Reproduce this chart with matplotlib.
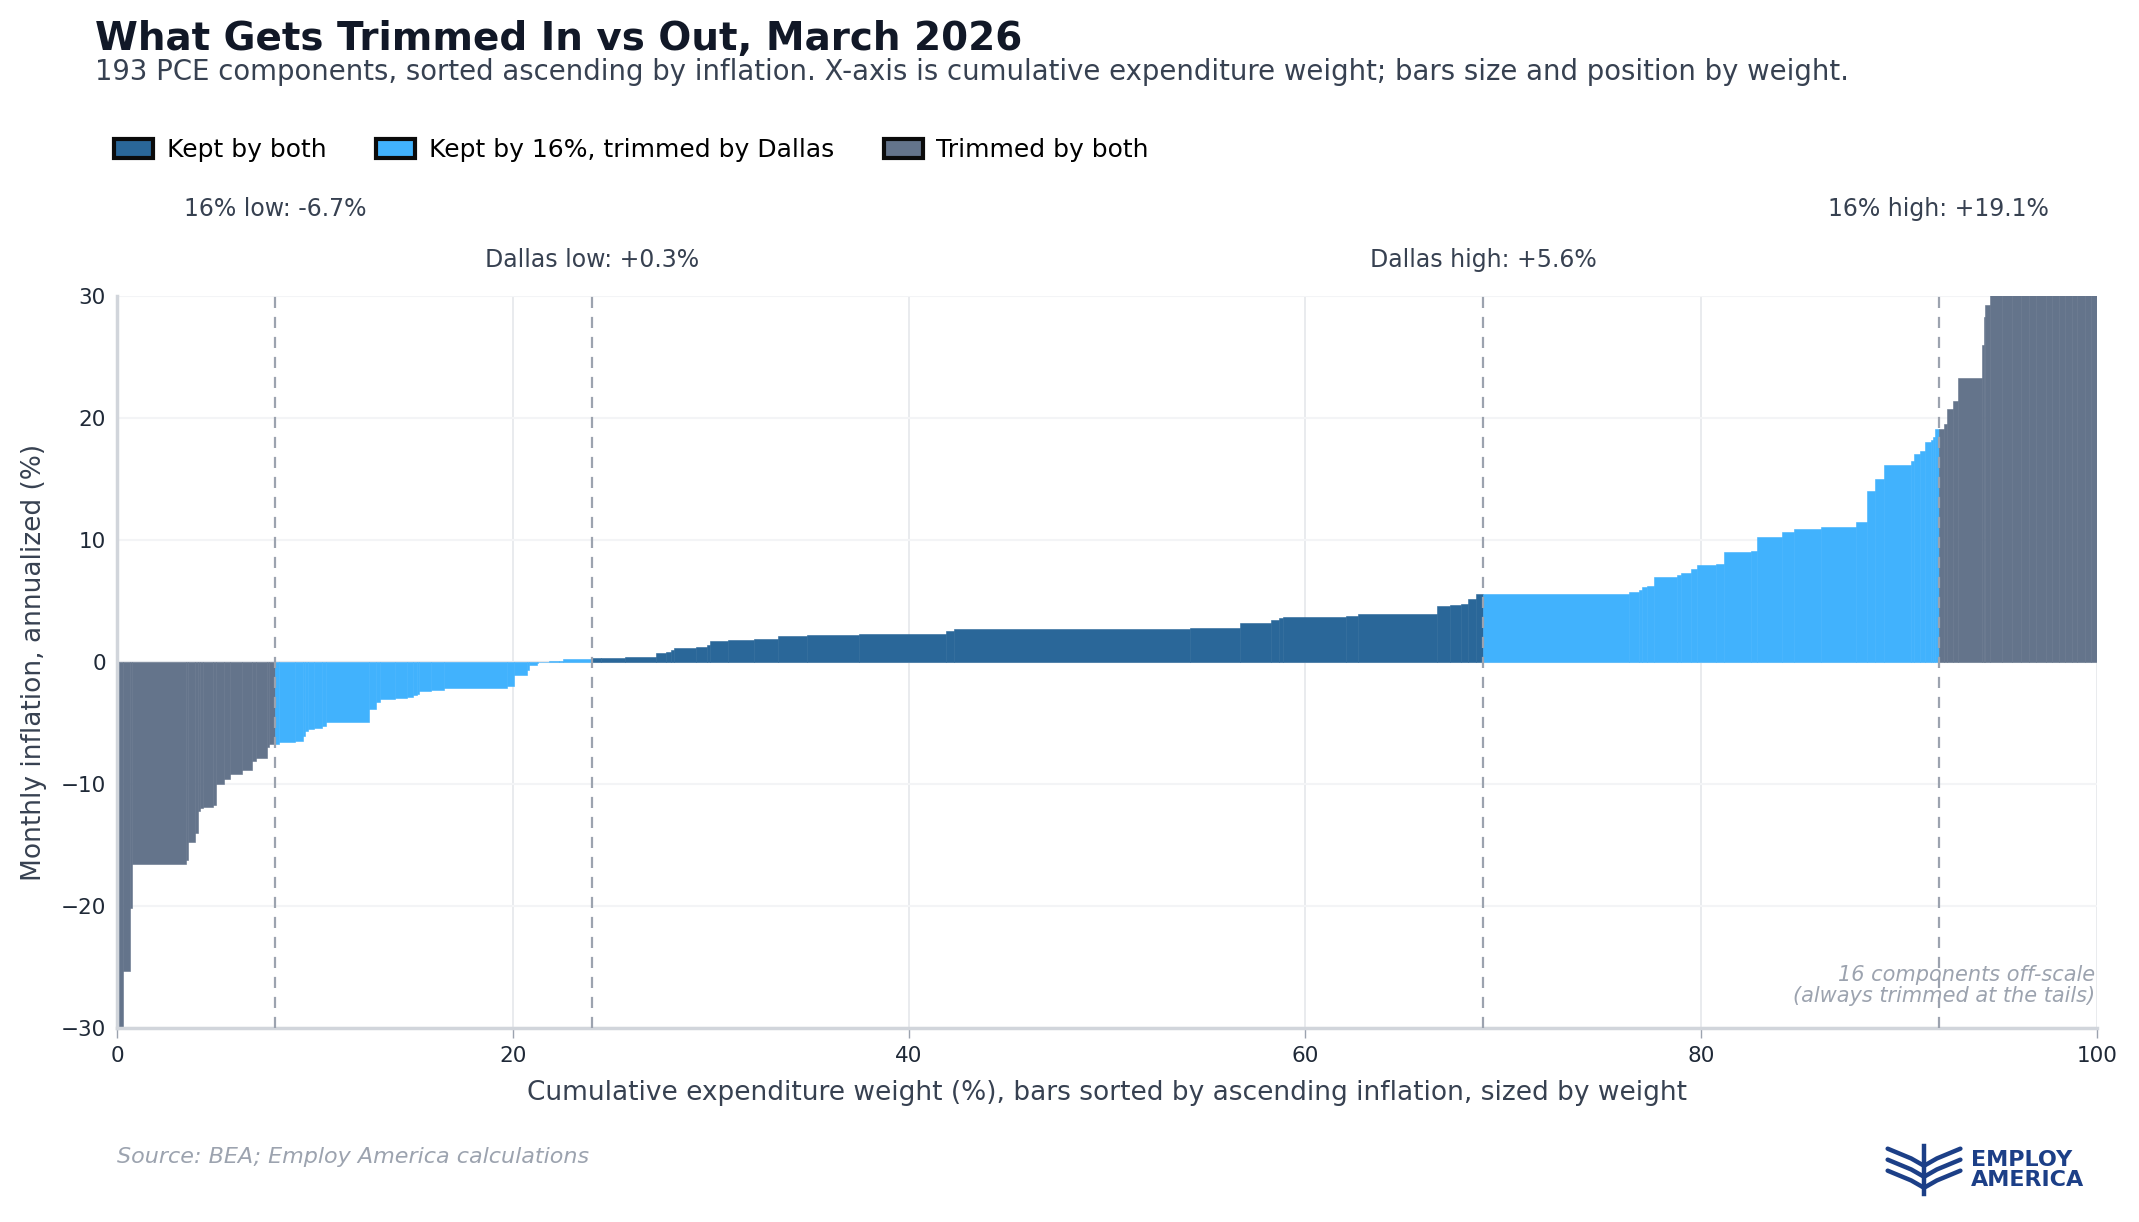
import numpy as np
import matplotlib.pyplot as plt
from matplotlib.patches import Patch
from matplotlib.lines import Line2D

### Component inflation (annualized %, sorted ascending) and expenditure weights (%)
### values; off-scale ones are rough guesses past the axis limits
values_low_trim = [-48, -33, -25.3, -20.2, -16.6, -16.2, -14.75, -14.0, -12.2, -12.0,
                   -11.9, -11.7, -10.0, -9.6, -9.2, -8.85, -8.1, -7.87, -6.97, -6.72]
weights_low_trim = [0.12, 0.17, 0.37, 0.10, 2.72, 0.11, 0.35, 0.15, 0.10, 0.17,
                    0.51, 0.13, 0.40, 0.31, 0.60, 0.51, 0.20, 0.56, 0.11, 0.31]

values_low_mid = [-6.7, -6.6, -6.5, -6.1, -5.65, -5.5, -5.4, -5.25, -4.9, -3.85,
                  -3.28, -3.03, -2.95, -2.87, -2.68, -2.6, -2.35, -2.27, -2.13, -1.97,
                  -1.07, -0.66, -0.25, -0.1, 0.0, 0.05, 0.1, 0.25]
weights_low_mid = [0.18, 0.81, 0.40, 0.10, 0.17, 0.29, 0.40, 0.21, 2.17, 0.35,
                   0.20, 0.76, 0.62, 0.31, 0.20, 0.10, 0.60, 0.65, 3.18, 0.35,
                   0.65, 0.09, 0.41, 0.07, 0.53, 0.52, 0.18, 1.50]

values_core = [0.3, 0.33, 0.44, 0.74, 0.82, 0.98, 1.17, 1.26, 1.39, 1.72,
               1.80, 1.88, 2.13, 2.21, 2.30, 2.54, 2.70, 2.79, 3.20, 3.44,
               3.60, 3.69, 3.77, 3.93, 4.59, 4.67, 4.76, 5.16, 5.57]
weights_core = [0.43, 1.23, 1.58, 0.48, 0.26, 0.16, 1.09, 0.58, 0.16, 0.90,
                1.29, 1.22, 1.46, 2.64, 4.41, 0.38, 11.92, 2.51, 1.60, 0.36,
                0.24, 3.18, 0.59, 3.97, 0.69, 0.57, 0.35, 0.38, 0.37]

values_high_mid = [5.6, 5.74, 5.90, 6.15, 6.23, 6.97, 7.13, 7.30, 7.62, 7.95,
                   8.03, 9.02, 9.10, 10.25, 10.66, 10.90, 11.07, 11.48, 14.02, 15.00,
                   16.15, 16.48, 17.05, 17.30, 18.03, 18.20, 18.45, 19.10]
weights_high_mid = [7.36, 0.51, 0.13, 0.28, 0.35, 1.16, 0.20, 0.50, 0.31, 0.96,
                    0.40, 1.37, 0.30, 1.26, 0.61, 1.36, 1.77, 0.55, 0.41, 0.45,
                    1.36, 0.16, 0.30, 0.25, 0.31, 0.10, 0.08, 0.20]

values_high_trim = [19.1, 19.5, 20.74, 21.4, 23.3, 26.0, 28.3, 29.3,
                    31, 33, 36, 38, 42, 45, 50, 55, 62, 70, 85, 100, 140, 210]
weights_high_trim = [0.27, 0.15, 0.30, 0.26, 1.21, 0.10, 0.05, 0.26,
                     0.6, 0.5, 0.45, 0.4, 0.35, 0.5, 0.3, 0.4, 0.3, 0.35, 0.25, 0.4, 0.3, 0.3]

# trim cutoffs in cumulative weight (%)
trim16 = (8.0, 92.0)
dallas = (24.0, 69.0)
cut_labels = ['16% low: -6.7%', 'Dallas low: +0.3%', 'Dallas high: +5.6%', '16% high: +19.1%']

C_BOTH = '#2a6799'
C_16 = '#41b2fd'
C_TRIM = '#64748b'


def build_bars():
    vals = np.array(values_low_trim + values_low_mid + values_core
                    + values_high_mid + values_high_trim, dtype=float)
    wts = np.array(weights_low_trim + weights_low_mid + weights_core
                   + weights_high_mid + weights_high_trim, dtype=float)
    wts = wts / wts.sum() * 100
    left = np.concatenate([[0], np.cumsum(wts)[:-1]])
    mid = left + wts / 2
    colors = []
    for m in mid:
        if m < trim16[0] or m > trim16[1]:
            colors.append(C_TRIM)
        elif m < dallas[0] or m > dallas[1]:
            colors.append(C_16)
        else:
            colors.append(C_BOTH)
    return vals, wts, left, colors


vals, wts, left, colors = build_bars()

fig = plt.figure(figsize=(21.39, 12.22), dpi=100)
ax = fig.add_axes([0.0547, 0.1588, 0.9257, 0.599])

ax.axhline(0, color='#e5e7eb', lw=1.5, zorder=1)
ax.bar(left, vals, width=wts, align='edge', color=colors, edgecolor=colors,
       linewidth=0.4, zorder=2)

for x in list(trim16) + list(dallas):
    ax.axvline(x, color='#9ca3af', lw=1.6, ls=(0, (5, 4)), zorder=3)

# cutoff labels above the plot
for x, lab, yy in zip([trim16[0], dallas[0], dallas[1], trim16[1]], cut_labels,
                      [1.119, 1.049, 1.049, 1.119]):
    ax.text(x, yy, lab, transform=ax.get_xaxis_transform(), ha='center', va='center',
            fontsize=17, color='#374151')

ax.text(0.999, 0.03, '16 components off-scale\n(always trimmed at the tails)',
        transform=ax.transAxes, ha='right', va='bottom', fontsize=15,
        style='italic', color='#9ca3af', linespacing=1.05)

ax.set_xlim(0, 100)
ax.set_ylim(-30, 30)
ax.set_xticks([0, 20, 40, 60, 80, 100])
ax.set_yticks([-30, -20, -10, 0, 10, 20, 30])
ax.grid(axis='y', color='#f3f4f6', lw=1.5, zorder=0)
ax.grid(axis='x', color='#e5e7eb', lw=1.2, zorder=0)
ax.set_axisbelow(True)
for s in ['top', 'right']:
    ax.spines[s].set_visible(False)
for s in ['left', 'bottom']:
    ax.spines[s].set_color('#d1d5db')
    ax.spines[s].set_linewidth(2.5)
ax.tick_params(axis='x', length=7, width=1, color='#9ca3af', labelsize=15.5,
               labelcolor='#1f2937', pad=6)
ax.tick_params(axis='y', length=0, labelsize=15.5, labelcolor='#1f2937', pad=8)
ax.set_xlabel('Cumulative expenditure weight (%), bars sorted by ascending inflation, sized by weight',
              fontsize=19, color='#374151', labelpad=10)
ax.set_ylabel('Monthly inflation, annualized (%)', fontsize=19, color='#374151', labelpad=10)

fig.text(0.0444, 0.9587, 'What Gets Trimmed In vs Out, March 2026', fontsize=28,
         fontweight='bold', color='#111827', va='baseline')
fig.text(0.0444, 0.9345, '193 PCE components, sorted ascending by inflation. X-axis is cumulative '
         'expenditure weight; bars size and position by weight.', fontsize=19.8,
         color='#374151', va='baseline')

handles = [Patch(facecolor=c, edgecolor='#0b0b0b', linewidth=3) for c in (C_BOTH, C_16, C_TRIM)]
fig.legend(handles, ['Kept by both', 'Kept by 16%, trimmed by Dallas', 'Trimmed by both'],
           loc='center left', bbox_to_anchor=(0.0533, 0.877), ncol=3, frameon=False,
           fontsize=18, handlelength=1.55, handleheight=0.75, handletextpad=0.55,
           columnspacing=2.0, borderpad=0, borderaxespad=0)

fig.text(0.0547, 0.053, 'Source: BEA; Employ America calculations', fontsize=16,
         style='italic', color='#9ca3af', va='center')

# Employ America mark
navy = '#1c3f87'
fig.text(0.9215, 0.0425, 'EMPLOY\nAMERICA', fontsize=16, fontweight='bold', color=navy,
         va='center', ha='left', linespacing=0.95)
cx = 0.8995
for dy in (0.0, -0.009, -0.018):
    fig.add_artist(Line2D([cx - 0.017, cx - 0.006, cx], [0.06 + dy, 0.052 + dy, 0.046 + dy],
                          color=navy, lw=3.2, solid_capstyle='round'))
    fig.add_artist(Line2D([cx + 0.017, cx + 0.006, cx], [0.06 + dy, 0.052 + dy, 0.046 + dy],
                          color=navy, lw=3.2, solid_capstyle='round'))
fig.add_artist(Line2D([cx, cx], [0.023, 0.062], color=navy, lw=3.2))

fig.savefig('out.png', dpi=100, facecolor='white')
